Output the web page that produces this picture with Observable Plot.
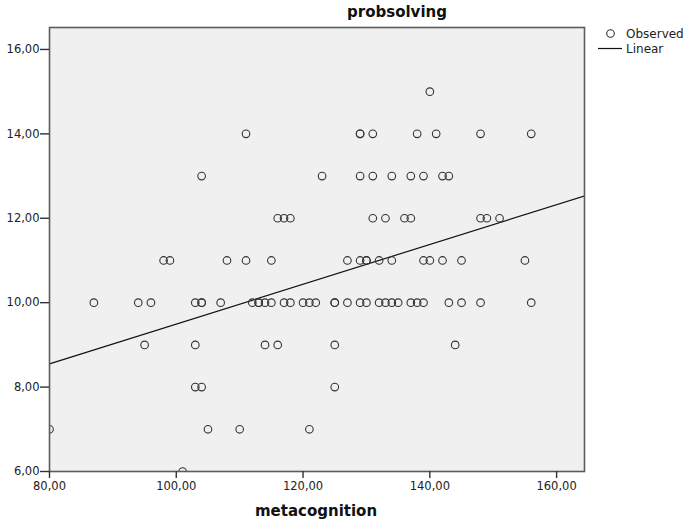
<!DOCTYPE html>
<html><head><meta charset="utf-8">
<script src="https://cdn.jsdelivr.net/npm/d3@7"></script>
<script src="https://cdn.jsdelivr.net/npm/@observablehq/plot@0.6"></script>
<style>body{margin:0;background:#fff;}</style>
</head><body><div id="chart"></div>
<script>
// metacognition values observed at each probsolving level
const metacogAt15 = [140];
const metacogAt14 = [111,129,129,131,138,141,148,156];
const metacogAt13 = [104,123,129,131,134,137,139,142,143];
const metacogAt12 = [116,117,118,131,133,136,137,148,149,151];
const metacogAt11 = [98,99,108,111,115,127,129,130,130,132,134,139,140,142,145,155];
const metacogAt10 = [87,94,96,103,104,104,107,112,113,113,114,115,117,118,120,121,122,125,125,127,129,130,132,133,134,135,137,138,139,143,145,148,156];
const metacogAt9 = [95,103,114,116,125,144];
const metacogAt8 = [103,104,125];
const metacogAt7 = [80,105,110,121];
const metacogAt6 = [101];
const probLevels = [15,14,13,12,11,10,9,8,7,6];
// linear fit line (ends at the frame edges)
const fitMetacog = [80, 164.4];
const fitProbsolving = [8.55, 12.53];
const xTicks = [80,100,120,140,160];
const yTicks = [6,8,10,12,14,16];
const xDomain = [80,164.4];
const yDomain = [6,16.52];

const groups = [metacogAt15,metacogAt14,metacogAt13,metacogAt12,metacogAt11,metacogAt10,metacogAt9,metacogAt8,metacogAt7,metacogAt6];
const data = groups.flatMap((xs,i) => xs.map(x => ({metacognition:x, probsolving:probLevels[i]})));
const fit = fitMetacog.map((x,i) => ({metacognition:x, probsolving:fitProbsolving[i]}));

const fmt = d => d3.format(".2f")(d).replace(".", ",");

const chart = Plot.plot({
  width:685, height:522,
  marginLeft:49, marginRight:101, marginTop:27, marginBottom:51,
  style:{fontFamily:"DejaVu Sans", fontSize:"11.5px", color:"#222", background:"#fff"},
  x:{domain:xDomain},
  y:{domain:yDomain},
  marks:[
    Plot.frame({fill:"#f0f0f0", stroke:"none"}),
    Plot.line(fit, {x:"metacognition", y:"probsolving", stroke:"#111", strokeWidth:1.2, clip:true}),
    Plot.dot(data, {x:"metacognition", y:"probsolving", r:3.8, stroke:"#333", strokeWidth:1.1, fill:"none", clip:true}),
    Plot.frame({stroke:"#5c5c5c", strokeWidth:1.6}),
    Plot.axisX({ticks:xTicks, tickFormat:fmt, tickSize:7, tickPadding:3, label:null, stroke:"#333", strokeWidth:1.4}),
    Plot.axisY({ticks:yTicks, tickFormat:fmt, tickSize:9, tickPadding:1, label:null, stroke:"#333", strokeWidth:1.4})
  ]
});
document.getElementById("chart").append(chart);

const svg = d3.select(chart);
svg.append("text").attr("x",397).attr("y",17).attr("text-anchor","middle")
  .attr("font-family","DejaVu Sans").attr("font-weight","bold").attr("font-size",15).attr("fill","#111")
  .text("probsolving");
svg.append("text").attr("x",316).attr("y",516).attr("text-anchor","middle")
  .attr("font-family","DejaVu Sans").attr("font-weight","bold").attr("font-size",15).attr("fill","#111")
  .text("metacognition");
const lg = svg.append("g").attr("font-family","DejaVu Sans").attr("font-size",12).attr("fill","#222").attr("text-anchor","start");
lg.append("circle").attr("cx",610.5).attr("cy",33.5).attr("r",3.8).attr("fill","none").attr("stroke","#333").attr("stroke-width",1.1);
lg.append("text").attr("x",626).attr("y",38).attr("text-anchor","start").text("Observed");
lg.append("line").attr("x1",598).attr("x2",622).attr("y1",48.5).attr("y2",48.5).attr("stroke","#111").attr("stroke-width",1.2);
lg.append("text").attr("x",626).attr("y",52.5).attr("text-anchor","start").text("Linear");
</script>
</body></html>
